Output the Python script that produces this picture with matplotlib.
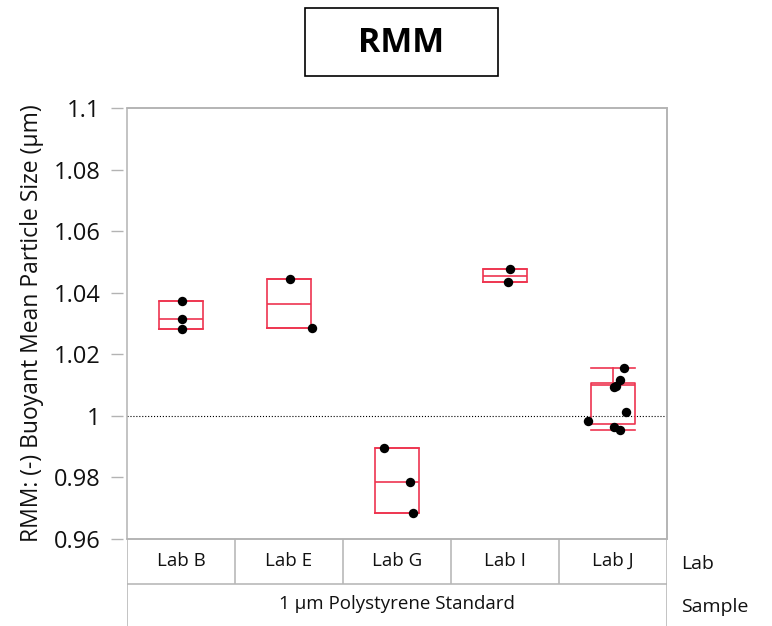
import matplotlib
matplotlib.use("Agg")
import matplotlib.pyplot as plt
from matplotlib.patches import Rectangle

plt.rcParams['font.family'] = ['Open Sans', 'DejaVu Sans']

# measurements per lab
labs = ['Lab B', 'Lab E', 'Lab G', 'Lab I', 'Lab J']
values = [
    [1.0374, 1.0316, 1.0282],
    [1.0443, 1.0284],
    [0.9896, 0.9785, 0.9684],
    [1.0477, 1.0435],
    [1.0155, 1.0116, 1.0097, 1.0094, 1.0013, 0.9983, 0.9964, 0.9954],
]
# horizontal jitter of the points (fraction of a category)
jitter = [
    [0.01, 0.01, 0.01],
    [0.01, 0.21],
    [-0.12, 0.12, 0.15],
    [0.05, 0.03],
    [0.10, 0.065, 0.03, 0.01, 0.12, -0.23, 0.01, 0.065],
]
# quantile box summary per lab
box_q1 = [1.0282, 1.0284, 0.9684, 1.0435, 0.9974]
box_med = [1.0313, 1.0363, 0.9785, 1.0453, 1.0100]
box_q3 = [1.0374, 1.0443, 0.9896, 1.0477, 1.0107]
whisk_lo = [1.0282, 1.0284, 0.9684, 1.0435, 0.9954]
whisk_hi = [1.0374, 1.0443, 0.9896, 1.0477, 1.0155]

yticks = [0.96, 0.98, 1.0, 1.02, 1.04, 1.06, 1.08, 1.1]
ytick_labels = ['0.96', '0.98', '1', '1.02', '1.04', '1.06', '1.08', '1.1']
sample_name = '1 µm Polystyrene Standard'

W, H = 772, 626
frame_col = '#b3b3b3'
box_col = '#EE3550'
txt_col = '#111111'

fig = plt.figure(figsize=(W / 100, H / 100), dpi=100)
ax = fig.add_axes([127 / W, (H - 539) / H, 540 / W, 431 / H])

stats = []
for i in range(len(labs)):
    stats.append(dict(q1=box_q1[i], med=box_med[i], q3=box_q3[i],
                      whislo=whisk_lo[i], whishi=whisk_hi[i], fliers=[]))
ax.bxp(stats, positions=range(len(labs)), widths=0.41, capwidths=0.41,
       showfliers=False, manage_ticks=False,
       boxprops=dict(color=box_col, linewidth=1.2),
       medianprops=dict(color=box_col, linewidth=1.2),
       whiskerprops=dict(color=box_col, linewidth=1.2),
       capprops=dict(color=box_col, linewidth=1.2))

for i, (vals, jit) in enumerate(zip(values, jitter)):
    ax.scatter([i + j for j in jit], vals, s=46, color='black', zorder=5,
               linewidths=0)

ax.axhline(1.0, color='black', linestyle=':', linewidth=0.8, zorder=1)

ax.set_xlim(-0.5, len(labs) - 0.5)
ax.set_ylim(0.96, 1.1)
ax.set_xticks([])
ax.spines['left'].set_position(('outward', 3))
ax.spines['left'].set_visible(False)
ax.tick_params(axis='y', length=9, width=1, color=frame_col, pad=7,
               labelsize=17, labelcolor=txt_col)
ax.set_yticks(yticks)
ax.set_yticklabels(ytick_labels)
for s in ['top', 'right', 'bottom']:
    ax.spines[s].set_color(frame_col)
    ax.spines[s].set_linewidth(1.1)
ax.add_patch(Rectangle((0, 0), 1, 1, transform=ax.transAxes, fill=False,
                       edgecolor=frame_col, linewidth=1.1, clip_on=False))

fig.text(32 / W, 1 - 323 / H, 'RMM: (-) Buoyant Mean Particle Size (µm)',
         rotation=90, ha='center', va='center', fontsize=16.5, color=txt_col)

# grouping table under the plot
tab = fig.add_axes([127 / W, 0, 540 / W, 87 / H])
tab.set_xlim(0, len(labs))
tab.set_ylim(0, 87)
tab.axis('off')
tab.plot([0, 0], [0, 87], color=frame_col, lw=1.1)
tab.plot([len(labs), len(labs)], [0, 87], color=frame_col, lw=1.1)
tab.plot([0, len(labs)], [42, 42], color=frame_col, lw=1.1)
for i in range(1, len(labs)):
    tab.plot([i, i], [43, 87], color=frame_col, lw=1.1)
for i, lab in enumerate(labs):
    tab.text(i + 0.5, 65, lab, ha='center', va='center', fontsize=13.5,
             color=txt_col)
tab.text(len(labs) / 2, 22, sample_name, ha='center', va='center',
         fontsize=13.5, color=txt_col)

fig.text(681 / W, 1 - 564 / H, 'Lab', ha='left', va='center', fontsize=14,
         color=txt_col)
fig.text(681 / W, 1 - 607 / H, 'Sample', ha='left', va='center',
         fontsize=14, color=txt_col)

# title box
fig.patches.append(Rectangle((305 / W, 1 - 76 / H), 193 / W, 68 / H,
                             transform=fig.transFigure, fill=False,
                             edgecolor='black', linewidth=1.2))
fig.text(401 / W, 1 - 43 / H, 'RMM', ha='center', va='center',
         fontsize=24.5, fontweight='bold', color='black')

fig.savefig('out.png', dpi=100)
